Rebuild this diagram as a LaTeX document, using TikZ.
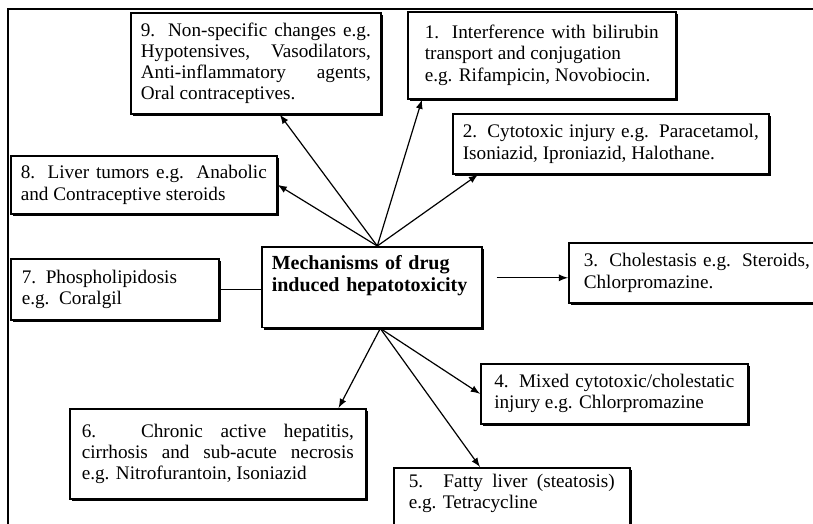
\documentclass[tikz,border=0pt]{standalone}
\usepackage{fontspec}
\setmainfont{Liberation Serif}
\usetikzlibrary{arrows,shadows}
\hyphenpenalty=10000
\exhyphenpenalty=10000

\tikzset{
  mech/.style={draw, line width=0.8pt, fill=white, anchor=north west, align=justify,
    inner xsep=5pt, inner ysep=3pt, font=\fontsize{9.6}{10.6}\selectfont,
    drop shadow={shadow xshift=1.2pt, shadow yshift=-1.2pt, fill=black, opacity=1}},
  link/.style={line width=0.6pt},
}

\begin{document}
\begin{tikzpicture}[x=0.5pt, y=-0.5pt, >=latex]
\useasboundingbox (0,0) rectangle (813,524);
\clip (0,0) rectangle (813,524);
\draw[line width=0.8pt] (8,524) -- (8,9) -- (813,9);

\draw (261,246) node (0) [mech, align=left, text width=100pt, inner xsep=5pt, inner ysep=4.5pt, minimum height=36pt, font=\fontsize{10}{10.6}\selectfont\bfseries] {Mechanisms of drug\\ induced hepatotoxicity\\ \strut};

\draw (407,11)  node (1) [mech, text width=117pt, inner xsep=8.5pt, minimum height=43.5pt] {1. Interference with bilirubin transport and conjugation\\ e.g. Rifampicin, Novobiocin.};
\draw (452,113) node (2) [mech, text width=148pt, minimum height=30pt] {2. Cytotoxic injury e.g. Paracetamol, Isoniazid, Iproniazid, Halothane.};
\draw (568,242) node (3) [mech, text width=113pt, inner xsep=7.5pt, minimum height=30pt] {3. Cholestasis e.g. Steroids, Chlorpromazine.};
\draw (480,363) node (4) [mech, text width=120pt, inner xsep=6.75pt, minimum height=30pt] {4. Mixed cytotoxic/cholestatic injury e.g. Chlorpromazine};
\draw (393,467) node (5) [mech, text width=103pt, inner xsep=7.5pt] {5. Fatty liver (steatosis) e.g. Tetracycline\\ \strut};
\draw (69,408)  node (6) [mech, text width=136pt, inner xsep=6pt, minimum height=45pt] {6. Chronic active hepatitis, cirrhosis and sub-acute necrosis e.g. Nitrofurantoin, Isoniazid};
\draw (10,258)  node (7) [mech, align=left, text width=93pt, inner xsep=5.5pt, minimum height=30.5pt] {7. Phospholipidosis\\ e.g. Coralgil};
\draw (10,155)  node (8) [mech, text width=123pt, minimum height=29pt] {8. Liver tumors e.g. Anabolic and Contraceptive steroids};
\draw (130,12)  node (9) [mech, text width=115pt, minimum height=50.5pt] {9. Non-specific changes e.g. Hypotensives, Vasodilators, Anti-inflammatory agents, Oral contraceptives.\par\vspace{4pt}};

\coordinate (0t) at ([xshift=2.75pt]0.north);
\coordinate (0b) at ([xshift=4.25pt]0.south);
\path (0.east |- 3.west) ++(14,5) coordinate (3a);

\draw[link,->] (0t) -- ([xshift=12pt]9.south);
\draw[link,->] (0t) -- (8.east);
\draw[link,->] (0t) -- ([xshift=7.5pt]1.south west);
\draw[link,->] (0t) -- ([xshift=13pt]2.south west);
\draw[link] (7.east) -- (7.east -| 0.west);
\draw[link,->] (3a) -- (3a -| 3.west);
\draw[link,->] (0b) -- ([xshift=-14pt]6.north east);
\draw[link,->] (0b) -- (4.west);
\draw[link,->] (0b) -- ([xshift=43.5pt]5.north west);
\end{tikzpicture}
\end{document}
